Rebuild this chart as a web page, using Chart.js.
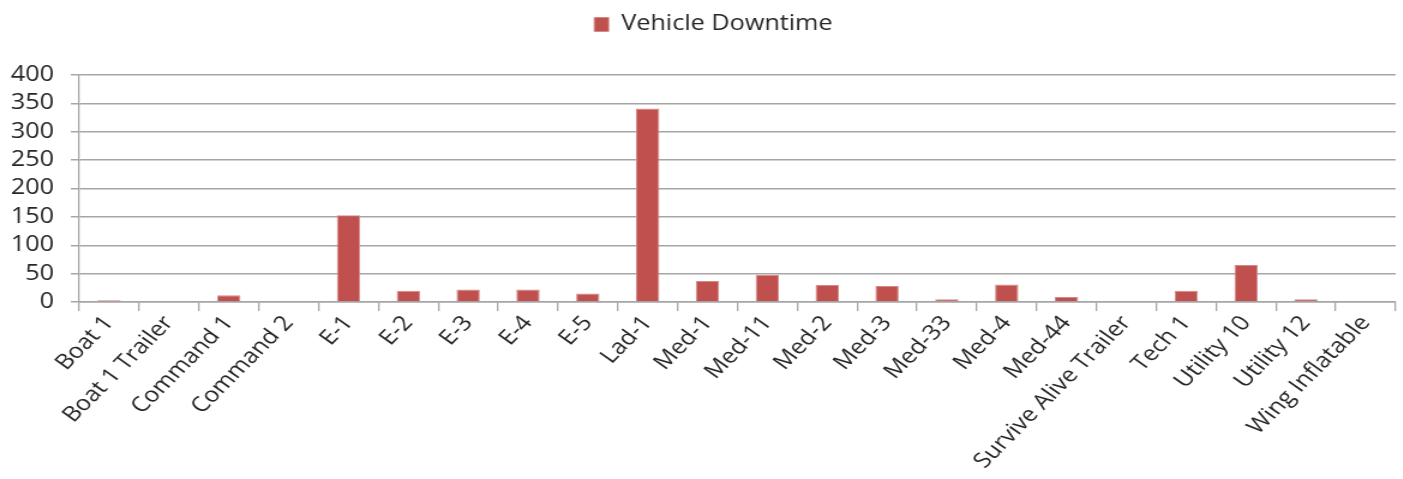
<!DOCTYPE html>
<html>
<head>
<meta charset="utf-8">
<script src="https://cdn.jsdelivr.net/npm/chart.js@4/dist/chart.umd.min.js"></script>
<style>
	html, body { margin: 0; padding: 0; background: #fff; overflow: hidden; }
	/* the source picture is a bit wider than tall, so the chart is drawn narrower and stretched */
	#wrap {
		width: 1169px;
		height: 479px;
		position: relative;
		transform: scaleX(1.2);
		transform-origin: 0 0;
	}
</style>
</head>
<body>
<div id="wrap"><canvas id="downtime-chart"></canvas></div>
<script>
const categories = [
	"Boat 1", "Boat 1 Trailer", "Command 1", "Command 2", "E-1", "E-2", "E-3", "E-4", "E-5",
	"Lad-1", "Med-1", "Med-11", "Med-2", "Med-3", "Med-33", "Med-4", "Med-44",
	"Survive Alive Trailer", "Tech 1", "Utility 10", "Utility 12", "Wing Inflatable"
];
const downtime = [3, 0, 12, 0, 153, 20, 22, 22, 15, 341, 37, 48, 30, 28, 5, 31, 9, 0, 20, 65, 5, 0];
const yTicks = [0, 50, 100, 150, 200, 250, 300, 350, 400];

const ctx = document.getElementById("downtime-chart").getContext("2d");
const fontFamily = "'Open Sans', sans-serif";
const textColor = "#262626";
const lineColor = "#A6A6A6";

// extra room between the legend and the plot, and legend nudged a bit right
const legendGap = {
	id: "legendGap",
	beforeInit(chart) {
		const fit = chart.legend.fit;
		chart.legend.fit = function () {
			fit.bind(chart.legend)();
			this.height += 30;
		};
	},
	afterLayout(chart) {
		chart.legend.left += 13;
		chart.legend.right += 13;
	},
};

new Chart(ctx, {
	type: "bar",
	data: {
		labels: categories,
		datasets: [
			{
				label: "Vehicle Downtime",
				data: downtime,
				backgroundColor: "#C0504D",
				borderColor: "#D48A88",
				borderWidth: 1,
				barPercentage: 1,
				categoryPercentage: 0.39,
			},
		],
	},
	plugins: [legendGap],
	options: {
		responsive: true,
		maintainAspectRatio: false,
		animation: false,
		layout: {
			padding: { left: 0, right: 6, top: 0, bottom: 0 },
		},
		scales: {
			y: {
				min: 0,
				max: 400,
				afterBuildTicks: (axis) => {
					axis.ticks = yTicks.map((v) => ({ value: v }));
				},
				afterFit: (axis) => {
					axis.width = 66;
				},
				grid: {
					color: lineColor,
					lineWidth: 1.5,
					tickLength: 7,
				},
				border: { color: lineColor, width: 1.3 },
				ticks: {
					color: textColor,
					font: { family: fontFamily, size: 21 },
					padding: 14,
					autoSkip: false,
				},
			},
			x: {
				afterFit: (axis) => {
					axis.height = 177;
				},
				grid: {
					drawOnChartArea: false,
					drawTicks: true,
					tickLength: 9,
					color: lineColor,
					lineWidth: 1.3,
					offset: true,
				},
				border: { color: lineColor, width: 1.5 },
				ticks: {
					color: textColor,
					font: { family: fontFamily, size: 21 },
					minRotation: 50,
					maxRotation: 50,
					autoSkip: false,
					padding: 0,
				},
			},
		},
		plugins: {
			legend: {
				display: true,
				position: "top",
				labels: {
					color: textColor,
					font: { family: fontFamily, size: 21 },
					boxWidth: 12,
					boxHeight: 14,
					padding: 14,
				},
			},
			title: { display: false },
			tooltip: { enabled: false },
		},
	},
});
</script>
</body>
</html>
